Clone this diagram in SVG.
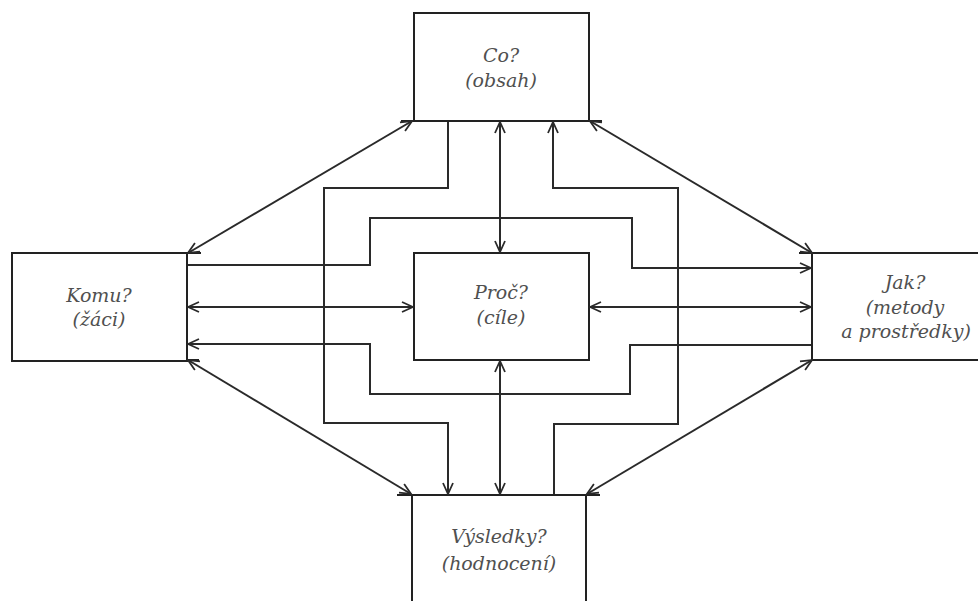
<svg xmlns="http://www.w3.org/2000/svg" width="978" height="601" viewBox="0 0 978 601">
<style>
.box{fill:none;stroke:#222;stroke-width:2}
.edge{fill:none;stroke:#222;stroke-width:2}
.c{fill:none;stroke:#2a2a2a;stroke-width:2}
.t{font-family:'DejaVu Serif',serif;font-style:italic;font-size:19px;fill:#505050;text-anchor:middle}
</style>
<defs>
<marker id="ah" viewBox="-12 -6 14 12" refX="0" refY="0" markerWidth="14" markerHeight="12" markerUnits="userSpaceOnUse" orient="auto-start-reverse">
<path d="M-11,-5 L0,0 L-11,5" fill="none" stroke="#2a2a2a" stroke-width="1.8"/>
</marker>
</defs>
<rect width="978" height="601" fill="#fff"/>
<g id="co">
<path class="box" d="M414,121 V13 H589 V121"/>
<path class="edge" d="M401,121 H602"/>
<text class="t" x="501" y="62">Co?</text>
<text class="t" x="501" y="87">(obsah)</text>
</g>
<g id="komu">
<path class="box" d="M187,253 H12 V361 H187 Z"/>
<path class="edge" d="M187,253 H201 M187,360 H199"/>
<text class="t" x="99" y="302">Komu?</text>
<text class="t" x="99" y="326">(žáci)</text>
</g>
<g id="proc">
<rect class="box" x="414" y="253" width="175" height="107"/>
<text class="t" x="501" y="299">Proč?</text>
<text class="t" x="501" y="324">(cíle)</text>
</g>
<g id="jak">
<path class="box" d="M978,253 H812 V360 H978"/>
<path class="edge" d="M799,253 H812"/>
<text class="t" x="905" y="289">Jak?</text>
<text class="t" x="905" y="314">(metody</text>
<text class="t" x="906" y="338">a prostředky)</text>
</g>
<g id="vysledky">
<path class="box" d="M412,601 V495 H586 V601"/>
<path class="edge" d="M397,495 H600"/>
<text class="t" x="499" y="543">Výsledky?</text>
<text class="t" x="499" y="570">(hodnocení)</text>
</g>
<g id="connectors">
<path class="c" d="M412,121 L188,253" marker-start="url(#ah)" marker-end="url(#ah)"/>
<path class="c" d="M590,121 L812,253" marker-start="url(#ah)" marker-end="url(#ah)"/>
<path class="c" d="M188,360 L411,494" marker-start="url(#ah)" marker-end="url(#ah)"/>
<path class="c" d="M812,360 L587,494" marker-start="url(#ah)" marker-end="url(#ah)"/>
<path class="c" d="M500,122 L500,252" marker-start="url(#ah)" marker-end="url(#ah)"/>
<path class="c" d="M500,361 L500,494" marker-start="url(#ah)" marker-end="url(#ah)"/>
<path class="c" d="M188,307 L413,307" marker-start="url(#ah)" marker-end="url(#ah)"/>
<path class="c" d="M590,307 L811,307" marker-start="url(#ah)" marker-end="url(#ah)"/>
<path class="c" d="M448,122 V188 H324 V423 H448 V494" marker-end="url(#ah)"/>
<path class="c" d="M554,494 V424 H678 V188 H553 V122" marker-end="url(#ah)"/>
<path class="c" d="M188,265 H370 V218 H632 V268 H811" marker-end="url(#ah)"/>
<path class="c" d="M811,345 H630 V394 H370 V344 H188" marker-end="url(#ah)"/>
</g>
</svg>
